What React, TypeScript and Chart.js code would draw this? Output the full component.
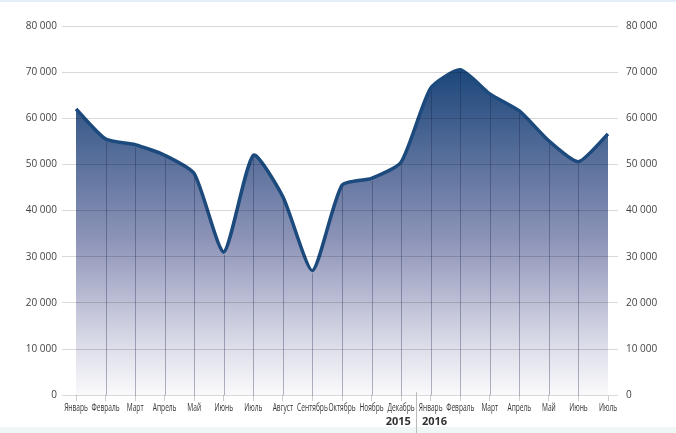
import React, { useEffect, useRef } from "react";
import { Chart, registerables } from "chart.js";

Chart.register(...registerables);

const months: string[] = [
  "Январь", "Февраль", "Март", "Апрель", "Май", "Июнь", "Июль", "Август", "Сентябрь",
  "Октябрь", "Ноябрь", "Декабрь", "Январь", "Февраль", "Март", "Апрель", "Май", "Июнь", "Июль",
];
const values: number[] = [
  62000, 55500, 54300, 52000, 48000, 31000, 52000, 43000, 27000,
  45500, 47000, 50500, 66500, 70500, 65300, 61600, 55100, 50600, 56600,
];
const yearLabels: string[] = ["2015", "2016"];
const yearSplitIndex = 12; // first index of 2016

const fmt = (v: number) => String(v).replace(/\B(?=(\d{3})+(?!\d))/g, " ");

export default function App() {
  const ref = useRef<HTMLCanvasElement>(null);
  useEffect(() => {
    const canvas = ref.current!;
    const decor = {
      id: "decor",
      beforeDraw(chart: any) {
        const { ctx, width, height } = chart;
        ctx.save();
        ctx.fillStyle = "#ffffff";
        ctx.fillRect(0, 0, width, height);
        ctx.fillStyle = "#e4eef8";
        ctx.fillRect(0, 0, width, 2);
        ctx.fillStyle = "#eef7f6";
        ctx.fillRect(0, height - 6, width, 6);
        ctx.restore();
      },
      afterDatasetsDraw(chart: any) {
        const { ctx, chartArea } = chart;
        const meta = chart.getDatasetMeta(0);
        ctx.save();
        ctx.strokeStyle = "rgba(20,30,70,0.33)";
        ctx.lineWidth = 1;
        meta.data.forEach((p: any, i: number) => {
          if (i === 0 || i === meta.data.length - 1) return;
          ctx.beginPath();
          ctx.moveTo(Math.round(p.x) + 0.5, p.y + 3);
          ctx.lineTo(Math.round(p.x) + 0.5, chartArea.bottom);
          ctx.stroke();
        });
        ctx.restore();
      },
      afterDraw(chart: any) {
        const { ctx, chartArea, height } = chart;
        const xs = chart.scales.x;
        ctx.save();
        ctx.fillStyle = "#333333";
        ctx.font = "10px 'Open Sans', sans-serif";
        ctx.textBaseline = "middle";
        ctx.textAlign = "center";
        months.forEach((m, i) => {
          const x = xs.getPixelForValue(i);
          ctx.save();
          ctx.translate(x, chartArea.bottom + 13);
          ctx.scale(0.66, 1);
          ctx.fillText(m, 0, 0);
          ctx.restore();
        });
        const sx = (xs.getPixelForValue(yearSplitIndex - 1) + xs.getPixelForValue(yearSplitIndex)) / 2;
        ctx.strokeStyle = "#bbbbbb";
        ctx.lineWidth = 1;
        ctx.beginPath();
        ctx.moveTo(Math.round(sx) + 0.5, chartArea.bottom - 3);
        ctx.lineTo(Math.round(sx) + 0.5, height);
        ctx.stroke();
        ctx.fillStyle = "#333333";
        ctx.font = "bold 11px 'Open Sans', sans-serif";
        ctx.textAlign = "right";
        ctx.fillText(yearLabels[0], sx - 5, 422);
        ctx.textAlign = "left";
        ctx.fillText(yearLabels[1], sx + 6, 422);
        ctx.restore();
      },
    };

    const chart = new Chart(canvas, {
      type: "line",
      data: {
        labels: months,
        datasets: [
          {
            data: values,
            borderColor: "#1c4a7c",
            borderWidth: 3.5,
            pointRadius: 0,
            tension: 0.2,
            fill: "origin",
            backgroundColor: (c: any) => {
              const ca = c.chart.chartArea;
              if (!ca) return "#8890b0";
              const g = c.chart.ctx.createLinearGradient(0, ca.top, 0, ca.bottom);
              g.addColorStop(0, "#163f72");
              g.addColorStop(0.12, "#1d477b");
              g.addColorStop(0.58, "#8e94b8");
              g.addColorStop(0.85, "#d8d9e6");
              g.addColorStop(1, "#fafafc");
              return g;
            },
          },
        ],
      },
      plugins: [decor],
      options: {
        responsive: false,
        animation: false,
        layout: { padding: { top: 26, bottom: 17, left: 0, right: 0 } },
        plugins: { legend: { display: false }, tooltip: { enabled: false } },
        scales: {
          x: {
            offset: false,
            grid: { display: true, drawOnChartArea: false, drawTicks: true, tickLength: 6, color: "#cccccc" },
            border: { display: false },
            ticks: {
              autoSkip: false,
              maxRotation: 0,
              padding: 2,
              color: "rgba(0,0,0,0)",
              font: { family: "'Open Sans', sans-serif", size: 9 },
              callback: () => "",
            },
          },
          y: {
            position: "left",
            min: 0,
            max: 80000,
            afterFit: (s: any) => { s.width = 76; },
            grid: { color: "rgba(0,0,0,0.15)", tickLength: 14, z: 1 } as any,
            border: { display: false },
            ticks: {
              stepSize: 10000,
              padding: 5,
              color: "#444444",
              font: { family: "'Open Sans', sans-serif", size: 10 },
              callback: (v: any) => fmt(Number(v)),
            },
          },
          y2: {
            position: "right",
            min: 0,
            max: 80000,
            afterFit: (s: any) => { s.width = 68; },
            grid: { drawOnChartArea: false, color: "#d9d9d9", tickLength: 10 },
            border: { display: false },
            ticks: {
              stepSize: 10000,
              padding: 8,
              color: "#444444",
              font: { family: "'Open Sans', sans-serif", size: 10 },
              callback: (v: any) => fmt(Number(v)),
            },
          },
        },
      },
    } as any);
    return () => chart.destroy();
  }, []);
  return (
    <div style={{ position: "fixed", left: 0, top: 0, width: 676, height: 433 }}>
      <canvas ref={ref} width={676} height={433} style={{ width: 676, height: 433, display: "block" }} />
    </div>
  );
}
